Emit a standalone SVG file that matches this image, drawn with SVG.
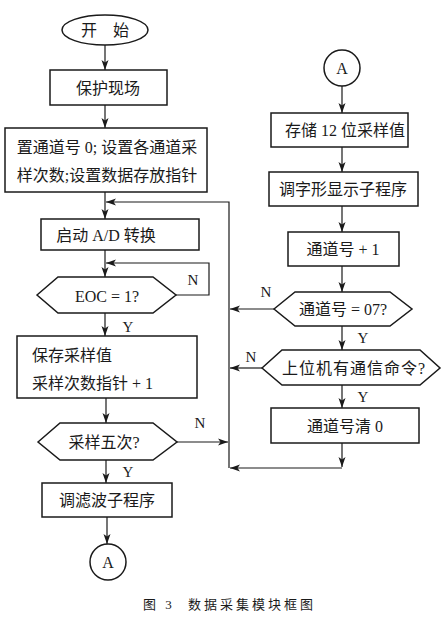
<svg xmlns="http://www.w3.org/2000/svg" width="442" height="617" viewBox="0 0 442 617">
<defs>
<style>
.s{fill:none;stroke:#1a1a1a;stroke-width:1.5}
.c{fill:none;stroke:#1a1a1a;stroke-width:1.2}
.t{font-family:"Liberation Serif","Noto Sans CJK SC",serif;font-size:16px;fill:#1a1a1a;dominant-baseline:central}
.m{text-anchor:middle}
.l{font-family:"Liberation Serif","Noto Sans CJK SC",serif;font-size:15px;fill:#1a1a1a;text-anchor:middle;dominant-baseline:central}
.cap{font-family:"Liberation Serif","Noto Sans CJK SC",serif;font-size:13px;fill:#1a1a1a;letter-spacing:3px}
</style>
<marker id="ar" markerUnits="userSpaceOnUse" markerWidth="10" markerHeight="8" viewBox="0 0 10 8" refX="10" refY="4" orient="auto">
<path d="M0,0.5 L10,4 L0,7.5 L2.5,4 z" fill="#1a1a1a"/>
</marker>
</defs>
<rect width="442" height="617" fill="#fff"/>

<g id="connectors" class="c" marker-end="url(#ar)">
<line x1="105" y1="45" x2="105" y2="70"/>
<line x1="105" y1="105" x2="105" y2="128"/>
<line x1="105" y1="192" x2="105" y2="219"/>
<line x1="105" y1="250" x2="105" y2="277"/>
<path d="M176,295 H209 V263 H106"/>
<line x1="105" y1="313" x2="105" y2="336"/>
<line x1="106" y1="398" x2="106" y2="423"/>
<line x1="106" y1="460" x2="106" y2="483"/>
<line x1="107" y1="517" x2="107" y2="544"/>
<line x1="177" y1="442" x2="228" y2="442"/>
<path d="M229,468 V202 H106"/>
<line x1="342" y1="86" x2="342" y2="113"/>
<line x1="342" y1="147" x2="342" y2="172"/>
<line x1="342" y1="206" x2="342" y2="232"/>
<line x1="342" y1="266" x2="342" y2="292"/>
<line x1="342" y1="326" x2="342" y2="350"/>
<line x1="342" y1="385" x2="342" y2="408"/>
<line x1="342" y1="443" x2="342" y2="467"/>
<line x1="274" y1="309" x2="230" y2="309"/>
<line x1="262" y1="368" x2="230" y2="368"/>
<line x1="342" y1="468" x2="230" y2="468"/>
</g>

<g id="start"><ellipse class="s" cx="105" cy="30" rx="43" ry="15"/><text class="t m" x="105" y="30">开　始</text></g>
<g id="protect"><rect class="s" x="50" y="70" width="117" height="35"/><text class="t m" x="108" y="88">保护现场</text></g>
<g id="init"><rect class="s" x="5" y="128" width="202" height="64"/><text class="t m" x="107" y="147">置通道号 0; 设置各通道采</text><text class="t m" x="107" y="175">样次数;设置数据存放指针</text></g>
<g id="startad"><rect class="s" x="41" y="219" width="158" height="31"/><text class="t m" x="106" y="235">启动 A/D 转换</text></g>
<g id="eoc"><polygon class="s" points="37,295 58,277 153,277 176,295 153,313 58,313"/><text class="t m" x="107" y="296">EOC = 1?</text></g>
<g id="save"><rect class="s" x="17" y="336" width="180" height="62"/><text class="t" x="32" y="355">保存采样值</text><text class="t" x="32" y="383">采样次数指针 + 1</text></g>
<g id="five"><polygon class="s" points="38,442 60,423 153,423 177,442 153,460 60,460"/><text class="t m" x="104" y="442">采样五次?</text></g>
<g id="filter"><rect class="s" x="42" y="483" width="130" height="34"/><text class="t m" x="107" y="500">调滤波子程序</text></g>
<g id="connA1"><circle class="s" cx="108" cy="562" r="18"/><text class="t m" x="108" y="562">A</text></g>

<g id="connA2"><circle class="s" cx="342" cy="68" r="18"/><text class="t m" x="342" y="68">A</text></g>
<g id="store"><rect class="s" x="271" y="113" width="137" height="34"/><text class="t m" x="345" y="130">存储 12 位采样值</text></g>
<g id="display"><rect class="s" x="269" y="172" width="149" height="34"/><text class="t m" x="343" y="189">调字形显示子程序</text></g>
<g id="inc"><rect class="s" x="288" y="232" width="111" height="34"/><text class="t m" x="343" y="249">通道号 + 1</text></g>
<g id="ch07"><polygon class="s" points="274,309 295,292 390,292 412,309 390,326 295,326"/><text class="t m" x="343" y="309">通道号 = 07?</text></g>
<g id="host"><polygon class="s" points="262,368 282,350 420,350 440,368 420,385 282,385"/><text class="t m" x="354" y="368" style="letter-spacing:1px">上位机有通信命令?</text></g>
<g id="clear"><rect class="s" x="271" y="408" width="148" height="35"/><text class="t m" x="345" y="426">通道号清 0</text></g>

<g id="labels">
<text class="l" x="193" y="280">N</text>
<text class="l" x="128" y="327">Y</text>
<text class="l" x="200" y="423">N</text>
<text class="l" x="128" y="472">Y</text>
<text class="l" x="266" y="292">N</text>
<text class="l" x="363" y="338">Y</text>
<text class="l" x="251" y="357">N</text>
<text class="l" x="363" y="397">Y</text>
</g>
<g id="caption"><text class="cap" x="143" y="609">图 3</text><text class="cap" x="188" y="609">数据采集模块框图</text></g>
</svg>
